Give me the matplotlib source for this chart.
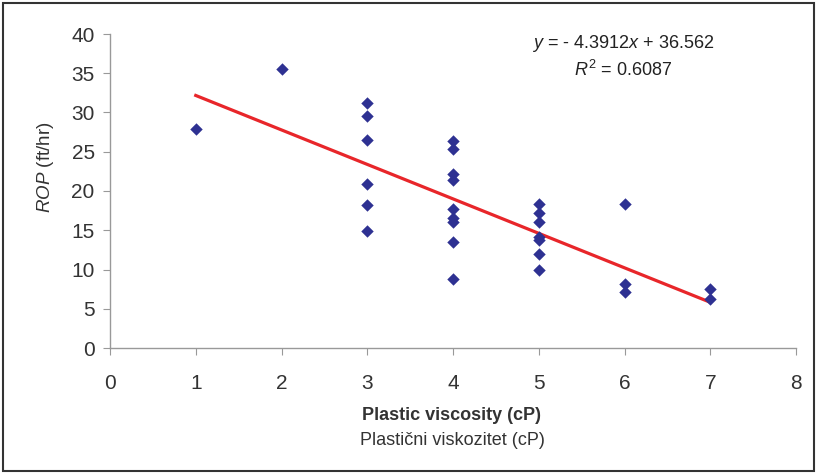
import matplotlib
matplotlib.use("Agg")
import matplotlib.pyplot as plt
from matplotlib.patches import Rectangle
import numpy as np

plt.rcParams['font.family'] = ['Liberation Sans', 'DejaVu Sans']
plt.rcParams['mathtext.fontset'] = 'custom'
plt.rcParams['mathtext.rm'] = 'Liberation Sans'
plt.rcParams['mathtext.it'] = 'Liberation Sans:italic'

# Data
pv = [1, 2,
      3, 3, 3, 3, 3, 3,
      4, 4, 4, 4, 4, 4, 4, 4, 4,
      5, 5, 5, 5, 5, 5, 5,
      6, 6, 6,
      7, 7]
rop = [27.9, 35.5,
       31.2, 29.5, 26.5, 20.9, 18.2, 14.9,
       26.4, 25.3, 22.2, 21.4, 17.7, 16.5, 16.1, 13.5, 8.8,
       18.3, 17.2, 16.0, 14.2, 13.7, 12.0, 9.9,
       18.4, 8.2, 7.1,
       7.5, 6.2]
slope = -4.3912
intercept = 36.562
r2 = 0.6087
fit_x = [1, 7]
x_ticks = [0, 1, 2, 3, 4, 5, 6, 7, 8]
y_ticks = [0, 5, 10, 15, 20, 25, 30, 35, 40]

W, H = 817, 474
fig = plt.figure(figsize=(W / 100, H / 100), dpi=100)
fig.patches.append(Rectangle((3 / W, 3 / H), 1 - 6 / W, 1 - 6 / H, transform=fig.transFigure,
                             fill=False, edgecolor='#333333', linewidth=1.5))

ax = fig.add_axes([110 / W, 1 - 348 / H, (796 - 110) / W, (348 - 34) / H])
ax.scatter(pv, rop, marker='D', s=40, color='#2E3192', zorder=3, linewidths=0)
fx = np.array(fit_x, dtype=float)
ax.plot(fx, slope * fx + intercept, color='#E8262A', linewidth=2.3, zorder=2)

ax.set_xlim(0, 8)
ax.set_ylim(0, 40)
ax.set_xticks(x_ticks)
ax.set_yticks(y_ticks)
for s in ['top', 'right']:
    ax.spines[s].set_visible(False)
for s in ['left', 'bottom']:
    ax.spines[s].set_color('#999999')
    ax.spines[s].set_linewidth(1.0)
ax.tick_params(direction='out', length=5, color='#999999', labelsize=15, labelcolor='#333333')
ax.tick_params(axis='y', pad=6)
ax.tick_params(axis='x', pad=14)

fig.text(46 / W, 1 - 167 / H, r'$\it{ROP}$ (ft/hr)', fontsize=13.5, color='#333333',
         rotation=90, ha='center', va='center')

fig.text(452 / W, 1 - 420 / H, 'Plastic viscosity (cP)', fontsize=13, fontweight='bold',
         color='#333333', ha='center', va='baseline')
fig.text(452 / W, 1 - 445 / H, 'Plastični viskozitet (cP)', fontsize=13,
         color='#333333', ha='center', va='baseline')

fig.text(623 / W, 1 - 48 / H, r'$\it{y}$ = - %.4f$\it{x}$ + %.3f' % (-slope, intercept),
         fontsize=13, color='#222222', ha='center', va='baseline')
fig.text(623 / W, 1 - 76 / H, r'$\it{R}^2$ = %.4f' % r2,
         fontsize=13, color='#222222', ha='center', va='baseline')

fig.savefig('out.png', dpi=100)
